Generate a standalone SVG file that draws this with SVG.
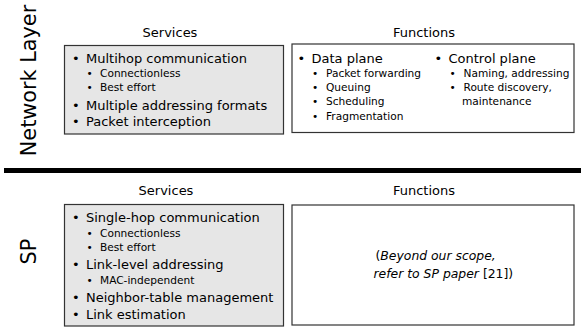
<svg xmlns="http://www.w3.org/2000/svg" width="581" height="327" viewBox="0 0 581 327">
<style>
text{font-family:"DejaVu Sans","Bitstream Vera Sans",sans-serif;fill:#000}
.side{font-size:20.8px}
.hd{font-size:13px;text-anchor:middle}
.m{font-size:13px}
.s{font-size:10.6px}
.it{font-size:12.4px}
.it .o{font-style:oblique}
.svc{fill:#e6e6e6;stroke:#333;stroke-width:1.2}
.fn{fill:#fff;stroke:#333;stroke-width:1.2}
</style>
<rect width="581" height="327" fill="#fff"/>
<g id="connectors"/>
<g id="divider"><rect x="4" y="168" width="577" height="5" fill="#000"/></g>

<g id="nl-label"><text class="side" text-anchor="middle" transform="translate(36,80.5) rotate(-90)">Network Layer</text></g>

<g id="nl-services">
<text class="hd" x="170" y="37">Services</text>
<rect class="svc" x="64.5" y="45.5" width="219" height="88.5"/>
<text class="m" x="72" y="63">•</text><text class="m" x="86" y="63">Multihop communication</text>
<text class="s" x="86.5" y="77">•</text><text class="s" x="100" y="77">Connectionless</text>
<text class="s" x="86.5" y="90.5">•</text><text class="s" x="100" y="90.5">Best effort</text>
<text class="m" x="72" y="110">•</text><text class="m" x="86" y="110">Multiple addressing formats</text>
<text class="m" x="72" y="126">•</text><text class="m" x="86" y="126">Packet interception</text>
</g>

<g id="nl-functions">
<text class="hd" x="424" y="37">Functions</text>
<rect class="fn" x="292" y="44" width="282" height="88.5"/>
<text class="m" x="297.5" y="62.5">•</text><text class="m" x="311.5" y="62.5">Data plane</text>
<text class="s" x="312" y="77">•</text><text class="s" x="326" y="77">Packet forwarding</text>
<text class="s" x="312" y="91">•</text><text class="s" x="326" y="91">Queuing</text>
<text class="s" x="312" y="105">•</text><text class="s" x="326" y="105">Scheduling</text>
<text class="s" x="312" y="119.5">•</text><text class="s" x="326" y="119.5">Fragmentation</text>
<text class="m" x="434.5" y="62.5">•</text><text class="m" x="448.5" y="62.5">Control plane</text>
<text class="s" x="449.5" y="77">•</text><text class="s" x="463.5" y="77">Naming, addressing</text>
<text class="s" x="449.5" y="91">•</text><text class="s" x="463.5" y="91">Route discovery,</text>
<text class="s" x="462" y="105">maintenance</text>
</g>

<g id="sp-label"><text class="side" text-anchor="middle" transform="translate(36,251.5) rotate(-90)">SP</text></g>

<g id="sp-services">
<text class="hd" x="166" y="195">Services</text>
<rect class="svc" x="64.5" y="204.5" width="219" height="121.5"/>
<text class="m" x="72" y="222">•</text><text class="m" x="86" y="222">Single-hop communication</text>
<text class="s" x="86.5" y="237">•</text><text class="s" x="100" y="237">Connectionless</text>
<text class="s" x="86.5" y="251">•</text><text class="s" x="100" y="251">Best effort</text>
<text class="m" x="72" y="269">•</text><text class="m" x="86" y="269">Link-level addressing</text>
<text class="s" x="86.5" y="284">•</text><text class="s" x="100" y="284">MAC-independent</text>
<text class="m" x="72" y="301.5">•</text><text class="m" x="86" y="301.5">Neighbor-table management</text>
<text class="m" x="72" y="319">•</text><text class="m" x="86" y="319">Link estimation</text>
</g>

<g id="sp-functions">
<text class="hd" x="424" y="195">Functions</text>
<rect class="fn" x="292" y="205" width="282" height="120"/>
<text class="it" x="375.5" y="260">(<tspan class="o">Beyond our scope,</tspan></text>
<text class="it" x="373.5" y="277.5"><tspan class="o">refer to SP paper</tspan> [21])</text>
</g>
</svg>
